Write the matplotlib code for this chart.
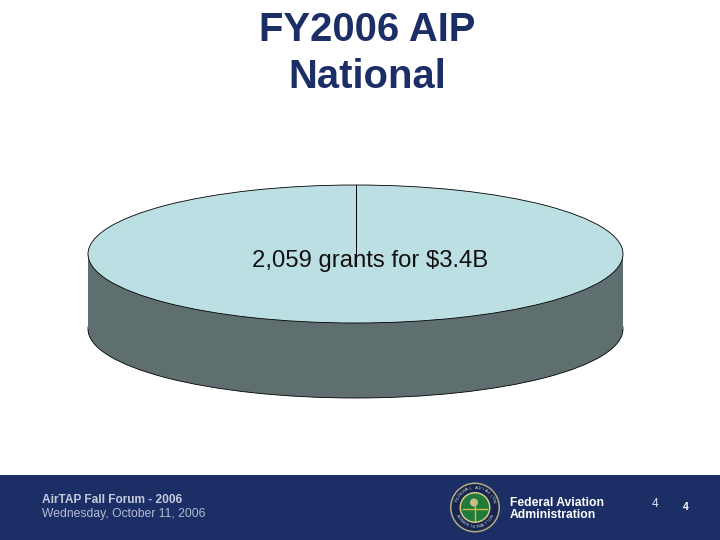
import numpy as np
import matplotlib
matplotlib.use("Agg")
import matplotlib.pyplot as plt
from matplotlib.patches import Circle, Rectangle

title_lines = ["FY2006 AIP", "National"]
pie_label = "2,059 grants for $3.4B"
pie_values = [3.4]
footer_left = ["AirTAP Fall Forum - 2006", "Wednesday, October 11, 2006"]
footer_right = ["Federal Aviation", "Administration"]
page_numbers = ["4", "4"]
seal_text_top = "FEDERAL AVIATION"
seal_text_bottom = "ADMINISTRATION"

navy = "#1c2e66"
top_col = "#bbdfe3"
side_col = "#5f6f70"

plt.rcParams["font.family"] = ["Liberation Sans", "DejaVu Sans"]

fig = plt.figure(figsize=(7.2, 5.4), dpi=100)

# background in pixels
bg = fig.add_axes([0, 0, 1, 1])
bg.set_xlim(0, 720)
bg.set_ylim(540, 0)
bg.axis("off")
bg.add_patch(Rectangle((0, 475), 720, 65, color=navy, lw=0))

bg.text(367, 30, title_lines[0], fontsize=28.8, fontweight="bold", color=navy, ha="center", va="center")
bg.text(367, 77, title_lines[1], fontsize=28.8, fontweight="bold", color=navy, ha="center", va="center")

# footer
bg.text(42, 500, footer_left[0], fontsize=8.6, fontweight="bold", color="#c5cbdc", va="center")
bg.text(42, 514.5, footer_left[1], fontsize=8.7, color="#b4bcd2", va="center")
bg.text(510, 503.5, footer_right[0], fontsize=8.7, fontweight="bold", color="white", va="center")
bg.text(510, 515.5, footer_right[1], fontsize=8.7, fontweight="bold", color="white", va="center")
bg.text(655, 504, page_numbers[0], fontsize=8.5, color="#e4e7ef", ha="center", va="center")
bg.text(686, 507.5, page_numbers[1], fontsize=7.5, fontweight="bold", color="white", ha="center", va="center")

# FAA seal
sx, sy = 475, 507.5
bg.add_patch(Circle((sx, sy), 25, color="#b9ac80", lw=0))
bg.add_patch(Circle((sx, sy), 23.5, color="#17264f", lw=0))
bg.add_patch(Circle((sx, sy), 15.5, color="#d9c98a", lw=0))
bg.add_patch(Circle((sx, sy), 14, color="#1f7a3c", lw=0))
bg.plot([sx - 12, sx + 12], [sy + 1, sy + 1], color="#d9b94a", lw=1)
bg.plot([sx, sx], [sy - 9, sy + 13], color="#d9b94a", lw=1)
bg.add_patch(Circle((sx - 1, sy - 5), 4, color="#c9c08a", lw=0))
for i, ch in enumerate(seal_text_top):
    a = np.radians(160 - i * 140 / (len(seal_text_top) - 1))
    bg.text(sx + 19.5 * np.cos(a), sy - 19.5 * np.sin(a), ch, fontsize=3.2, color="#d8dce8",
            ha="center", va="center", rotation=np.degrees(a) - 90)
for i, ch in enumerate(seal_text_bottom):
    a = np.radians(205 + i * 130 / (len(seal_text_bottom) - 1))
    bg.text(sx + 19.5 * np.cos(a), sy - 19.5 * np.sin(a), ch, fontsize=3.2, color="#d8dce8",
            ha="center", va="center", rotation=np.degrees(a) + 90)

# pie, squashed ellipse on its own axes
depth = 75 / 69
ax = fig.add_axes([88 / 720, 1 - 398 / 540, 535 / 720, 213 / 540])
ax.patch.set_alpha(0)
ax.pie(pie_values, center=(0, -depth), startangle=90, counterclock=False, colors=[side_col],
       wedgeprops={"edgecolor": "black", "linewidth": 0.6})
ax.add_patch(Rectangle((-1, -depth), 2, depth, color=side_col, lw=0, zorder=1.5))
ax.pie(pie_values, startangle=90, counterclock=False, colors=[top_col],
       wedgeprops={"edgecolor": "black", "linewidth": 0.6, "zorder": 2})
ax.plot([0, 0], [-0.17, 1], color="black", lw=0.7, zorder=3)
ax.set_aspect("auto")
ax.set_xlim(-1, 1)
ax.set_ylim(-1 - depth, 1)
ax.axis("off")
for p in ax.patches + ax.lines:
    p.set_clip_on(False)

bg.set_zorder(0)
ax.set_zorder(1)
lab = fig.add_axes([0, 0, 1, 1])
lab.set_xlim(0, 720)
lab.set_ylim(540, 0)
lab.axis("off")
lab.set_zorder(2)
lab.text(370.5, 261, pie_label, fontsize=17.2, color="#111111", ha="center", va="center")

fig.savefig("out.png", dpi=100)
